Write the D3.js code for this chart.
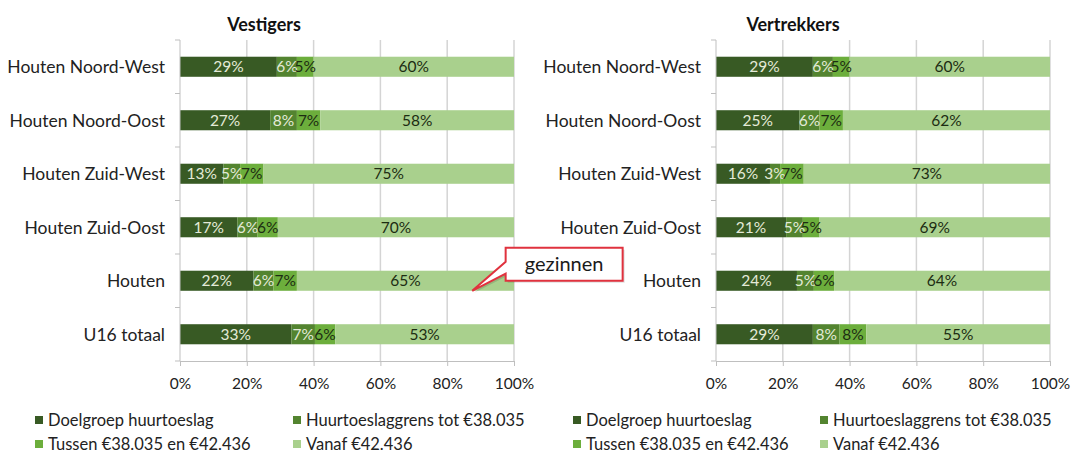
<!DOCTYPE html>
<html>
<head>
<meta charset="utf-8">
<script src="https://cdn.jsdelivr.net/npm/d3@7"></script>
<style>
  body { margin: 0; background: #fff; }
  svg { font-family: Lato, "Open Sans", sans-serif; }
</style>
</head>
<body>
<script>
// Categorieën en reeksen
var categories = ['Houten Noord-West', 'Houten Noord-Oost', 'Houten Zuid-West', 'Houten Zuid-Oost', 'Houten', 'U16 totaal'];
var seriesNames = ['Doelgroep huurtoeslag', 'Huurtoeslaggrens tot €38.035', 'Tussen €38.035 en €42.436', 'Vanaf €42.436'];

// Vestigers (%)
var vestDoelgroep = [29, 27, 13, 17, 22, 33];
var vestGrens     = [6, 8, 5, 6, 6, 7];
var vestTussen    = [5, 7, 7, 6, 7, 6];
var vestVanaf     = [60, 58, 75, 70, 65, 53];

// Vertrekkers (%)
var vertDoelgroep = [29, 25, 16, 21, 24, 29];
var vertGrens     = [6, 6, 3, 5, 5, 8];
var vertTussen    = [5, 7, 7, 5, 6, 8];
var vertVanaf     = [60, 62, 73, 69, 64, 55];

var tickValues = [0, 0.2, 0.4, 0.6, 0.8, 1];

var colors = ['#385a24', '#538430', '#6cae3c', '#a9d08d'];
var labelColors = ['#e4ead8', '#e4ead8', '#1c2c12', '#1c2c12'];

var width = 1071, height = 457;

var svg = d3.select('body')
    .append('svg')
    .attr('width', width)
    .attr('height', height);

var panels = [
    {title: 'Vestigers', series: [vestDoelgroep, vestGrens, vestTussen, vestVanaf],
     x0: 180, x1: 514, titleX: 264, legendX: [35, 293], callout: true},
    {title: 'Vertrekkers', series: [vertDoelgroep, vertGrens, vertTussen, vertVanaf],
     x0: 716, x1: 1050, titleX: 793, legendX: [573, 820], callout: false}
];

var plotTop = 40, plotBottom = 361;

panels.forEach(function (p) {
    var rows = categories.map(function (c, i) {
        var r = {cat: c};
        seriesNames.forEach(function (s, k) { r[s] = p.series[k][i]; });
        return r;
    });

    var stack = d3.stack().keys(seriesNames).offset(d3.stackOffsetExpand);
    var layers = stack(rows);

    var x = d3.scaleLinear().domain([0, 1]).range([p.x0, p.x1]);
    var y = d3.scaleBand().domain(categories).range([plotTop, plotBottom])
        .paddingInner(0.625).paddingOuter(0.3125);

    var g = svg.append('g');

    // Titel
    g.append('text')
        .attr('x', p.titleX).attr('y', 31)
        .attr('text-anchor', 'middle')
        .attr('font-weight', 'bold')
        .attr('font-size', 18)
        .attr('fill', '#111')
        .text(p.title);

    // Rasterlijnen
    g.selectAll('.grid')
        .data(tickValues.slice(1))
        .join('line')
        .attr('x1', d => x(d)).attr('x2', d => x(d))
        .attr('y1', plotTop).attr('y2', plotBottom)
        .attr('stroke', '#d4d4d4')
        .attr('stroke-width', 1.5);

    // Balken
    var layer = g.selectAll('.layer')
        .data(layers)
        .join('g')
        .attr('fill', (d, i) => colors[i]);

    layer.selectAll('rect')
        .data(d => d)
        .join('rect')
        .attr('x', d => x(d[0]))
        .attr('width', d => x(d[1]) - x(d[0]))
        .attr('y', d => y(d.data.cat))
        .attr('height', y.bandwidth());

    // Labels in de balken
    layers.forEach(function (l, k) {
        g.selectAll('.lbl' + k)
            .data(l)
            .join('text')
            .attr('x', d => x((d[0] + d[1]) / 2))
            .attr('y', d => y(d.data.cat) + y.bandwidth() / 2)
            .attr('dy', '0.36em')
            .attr('text-anchor', 'middle')
            .attr('font-size', 15.5)
            .attr('fill', labelColors[k])
            .text(d => d.data[l.key] + '%');
    });

    // Y-as
    var yAxis = g.append('g');
    yAxis.append('line')
        .attr('x1', p.x0).attr('x2', p.x0)
        .attr('y1', plotTop).attr('y2', plotBottom)
        .attr('stroke', '#bfbfbf');
    var bounds = d3.range(categories.length + 1).map(i => plotTop + i * y.step());
    yAxis.selectAll('.ytick')
        .data(bounds)
        .join('line')
        .attr('x1', p.x0 - 5).attr('x2', p.x0)
        .attr('y1', d => d).attr('y2', d => d)
        .attr('stroke', '#bfbfbf');
    yAxis.selectAll('.ylab')
        .data(categories)
        .join('text')
        .attr('x', p.x0 - 15)
        .attr('y', d => y(d) + y.bandwidth() / 2)
        .attr('dy', '0.36em')
        .attr('text-anchor', 'end')
        .attr('font-size', 17.5)
        .attr('fill', '#222')
        .text(d => d);

    // X-as
    var xAxis = g.append('g')
        .attr('transform', 'translate(0,' + plotBottom + ')')
        .call(d3.axisBottom(x).tickValues(tickValues).tickFormat(d3.format('.0%')).tickSize(5).tickPadding(12));
    xAxis.select('.domain').attr('stroke', '#bfbfbf');
    xAxis.selectAll('.tick line').attr('stroke', '#bfbfbf');
    xAxis.selectAll('.tick text')
        .attr('font-size', 15.5)
        .attr('font-family', 'Lato, sans-serif')
        .attr('fill', '#222');

    // Legenda
    var legendY = [420, 444];
    seriesNames.forEach(function (s, k) {
        var lx = p.legendX[k % 2], ly = legendY[Math.floor(k / 2)];
        g.append('rect')
            .attr('x', lx).attr('y', ly - 4)
            .attr('width', 8).attr('height', 8)
            .attr('fill', colors[k]);
        g.append('text')
            .attr('x', lx + 13).attr('y', ly)
            .attr('dy', '0.36em')
            .attr('font-size', 16.5)
            .attr('fill', '#222')
            .text(s);
    });

    // Toelichting "gezinnen"
    if (p.callout) {
        var yc = y('Houten');
        var bx = x(0.975), by = yc - 23, bw = 117, bh = 33;
        var tipX = x(0.875), tipY = yc + y.bandwidth();
        var path = 'M' + bx + ',' + by + 'H' + (bx + bw) + 'V' + (by + bh) + 'H' + bx +
            'V' + (by + 26) + 'L' + tipX + ',' + tipY + 'L' + bx + ',' + (by + 14) + 'Z';
        g.append('path')
            .attr('d', path)
            .attr('transform', 'translate(2,2)')
            .attr('fill', 'rgba(0,0,0,0.12)');
        g.append('path')
            .attr('d', path)
            .attr('fill', '#fff')
            .attr('stroke', '#e0323e')
            .attr('stroke-width', 2);
        g.append('text')
            .attr('x', bx + bw / 2).attr('y', by + bh / 2)
            .attr('dy', '0.36em')
            .attr('text-anchor', 'middle')
            .attr('font-size', 20)
            .attr('fill', '#1a1a1a')
            .text('gezinnen');
    }
});
</script>
</body>
</html>
